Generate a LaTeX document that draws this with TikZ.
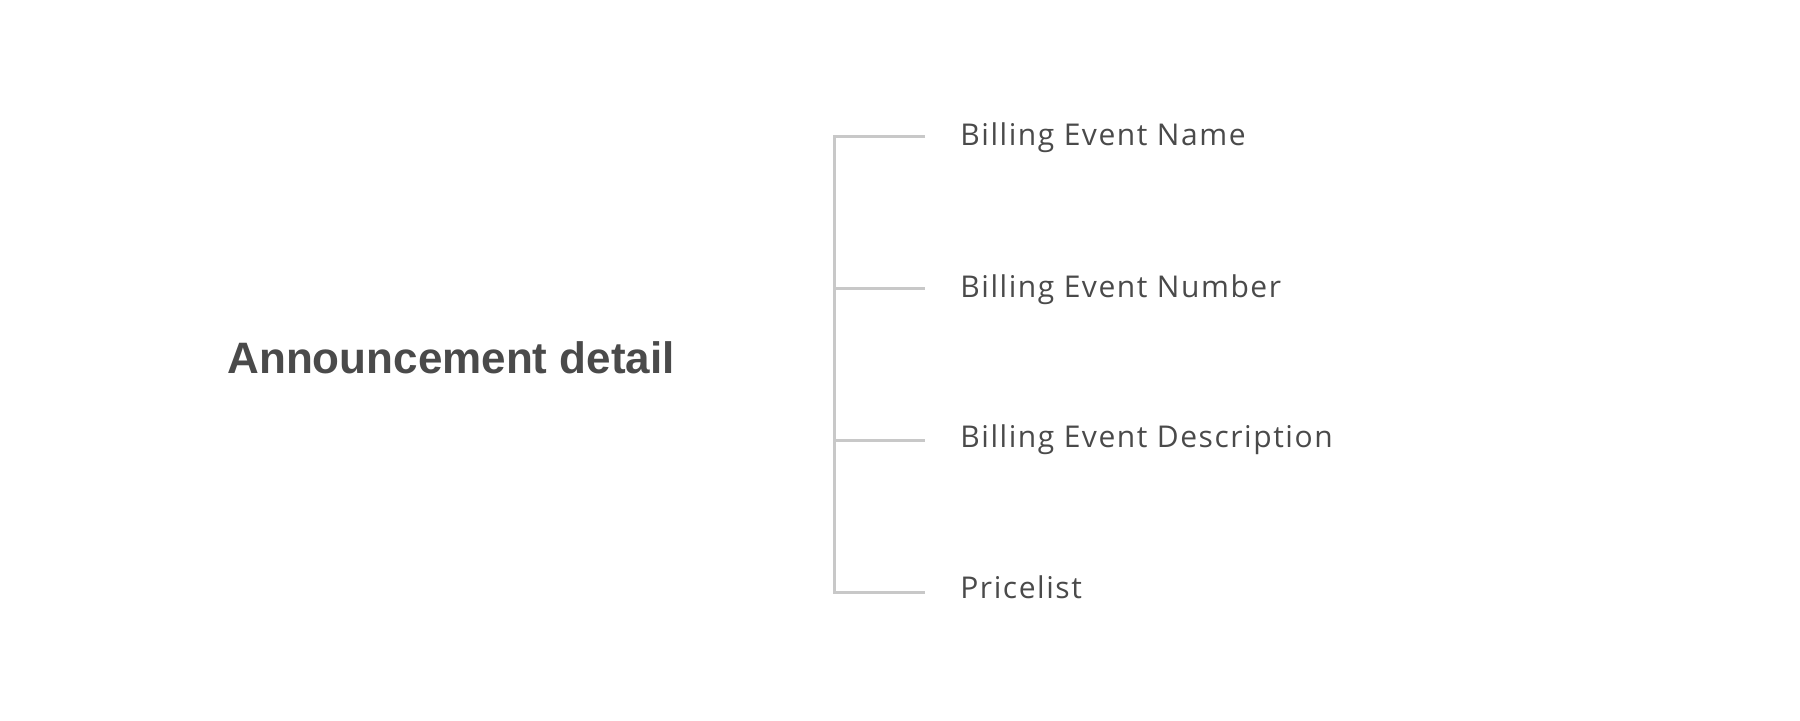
\documentclass[tikz,border=0pt]{standalone}
\usepackage{fontspec}
\setmainfont{Liberation Sans}
\newfontfamily\itemfont[LetterSpace=5.2]{Open Sans}
\definecolor{txt}{HTML}{4A4A4A}
\definecolor{ln}{HTML}{C8C8C8}
\tikzset{
  item/.style={anchor=base west, inner sep=0pt, text=txt, font=\itemfont\fontsize{15pt}{18pt}\selectfont},
  root/.style={anchor=base west, inner sep=0pt, text=txt, font=\fontsize{22pt}{26pt}\selectfont\bfseries},
  conn/.style={draw=ln, line width=1.5pt}
}
\begin{document}
\begin{tikzpicture}[x=0.5pt,y=-0.5pt]
\useasboundingbox (0,0) rectangle (1800,720);
\node[root] (root) at (227,373) {Announcement detail};
\node[item] (i1) at (960,145.5) {Billing Event Name};
\node[item] (i2) at (960,297.5) {Billing Event Number};
\node[item] (i3) at (960,447.5) {Billing Event Description};
\node[item] (i4) at (960,598) {Pricelist};
\coordinate (c1) at (925,136);
\coordinate (c2) at (925,288);
\coordinate (c3) at (925,440);
\coordinate (c4) at (925,592);
\coordinate (t1) at (834,136);
\coordinate (t2) at (834,288);
\coordinate (t3) at (834,440);
\coordinate (t4) at (834,592);
\draw[conn] (c1) -- (t1) -- (t4) -- (c4);
\draw[conn] (t2) -- (c2);
\draw[conn] (t3) -- (c3);
\end{tikzpicture}
\end{document}
